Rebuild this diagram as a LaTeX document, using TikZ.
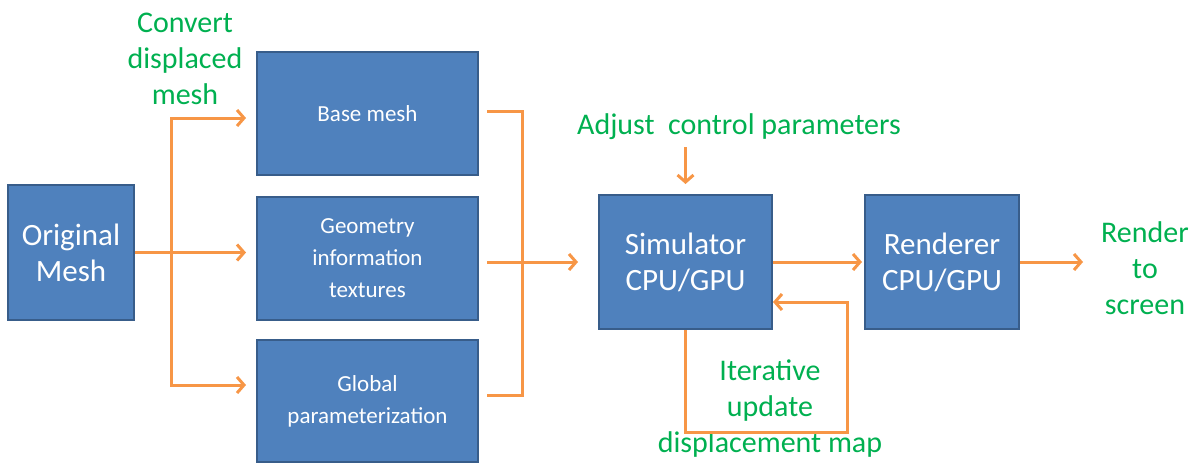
\documentclass[tikz,border=0pt]{standalone}
\usepackage{fontspec}
\setmainfont{Carlito}
\usepackage{tikz}
\usetikzlibrary{arrows.meta}
\definecolor{boxfill}{HTML}{4F81BD}
\definecolor{boxline}{HTML}{385D8A}
\definecolor{wire}{HTML}{F79646}
\definecolor{note}{HTML}{00B050}
\tikzset{block/.style = {shape = rectangle, draw = boxline, fill = boxfill, line width = 2pt, text = white, align = center, inner sep = 0pt}}
\tikzset{bigtext/.style = {font = \fontsize{31}{36}\selectfont}}
\tikzset{smalltext/.style = {font = \fontsize{23}{32}\selectfont}}
\tikzset{remark/.style = {text = note, align = center, inner sep = 0pt, font = \fontsize{30}{36}\selectfont}}
\tikzset{link/.style = {draw = wire, line width = 3pt}}
\tikzset{flow/.style = {link, -{Straight Barb[length = 7pt, width = 16pt]}}}

\begin{document}
\begin{tikzpicture}[x = 1pt, y = -1pt]
	\useasboundingbox (0, 0) rectangle (1201, 464);

	\node[block, bigtext, minimum width = 126pt, minimum height = 135pt] (orig) at (71, 252.5) {Original\\Mesh};
	\node[block, smalltext, minimum width = 221pt, minimum height = 123pt] (base) at (367.5, 113.5) {Base mesh};
	\node[block, smalltext, minimum width = 221pt, minimum height = 123pt] (geom) at (367.5, 258.5) {Geometry\\information\\textures};
	\node[block, smalltext, minimum width = 221pt, minimum height = 122pt] (glob) at (367.5, 401) {Global\\parameterization};
	\node[block, bigtext, minimum width = 173pt, minimum height = 134pt] (sim) at (685.5, 262) {Simulator\\CPU/GPU};
	\node[block, bigtext, minimum width = 154pt, minimum height = 134pt] (rend) at (942, 262) {Renderer\\CPU/GPU};

	\node[remark] (conv) at (185, 59) {Convert\\displaced\\mesh};
	\node[remark] (adj) at (739, 127) {Adjust\ \ control parameters};
	\node[remark] (iter) at (770, 409) {Iterative\\update\\displacement map};
	\node[remark] (scr) at (1145, 268) {Render\\to\\screen};

	\coordinate (split) at (171, 252);
	\coordinate (merge) at (522, 262);
	\coordinate (loop) at (847, 432);
	\coordinate (out) at (1083, 262);

	\draw[flow, shorten >= 10pt] (orig.east) -- (orig.east -| geom.west);
	\draw[flow, shorten >= 10pt] (split) |- ([yshift = -4.5pt]base.west);
	\draw[flow, shorten >= 10pt] (split) |- ([yshift = 16pt]glob.west);
	\draw[link, shorten <= 8pt, shorten >= 8pt] ([yshift = 2.5pt]base.east) -| (merge) |- ([yshift = 6pt]glob.east);
	\draw[flow, shorten <= 8pt, shorten >= 20pt] (geom.east |- merge) -- (sim.west);
	\draw[flow, shorten <= 7pt, shorten >= 10pt] (adj.south -| sim.north) -- (sim.north);
	\draw[flow, shorten >= 2pt] (sim.east) -- (rend.west);
	\draw[flow] (rend.east) -- (out);
	\draw[flow] (sim.south) |- (loop) |- ([yshift = -40pt]sim.east);
\end{tikzpicture}
\end{document}
